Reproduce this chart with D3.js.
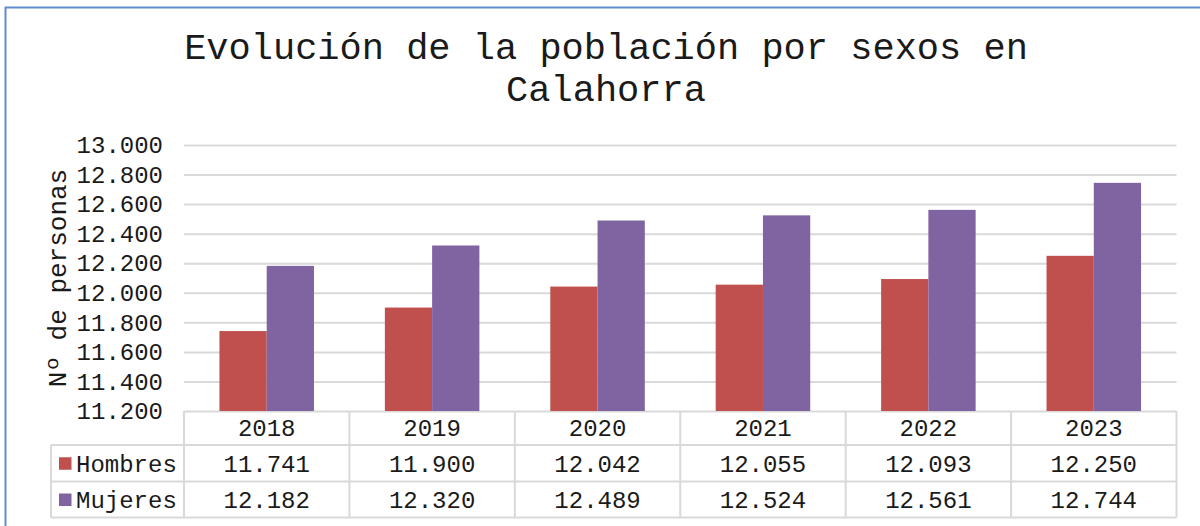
<!DOCTYPE html>
<html>
<head>
<meta charset="utf-8">
<script src="https://cdn.jsdelivr.net/npm/d3@7"></script>
<style>
  body { margin: 0; background: #fff; }
  svg { display: block; font-family: "Liberation Mono", "Courier New", monospace; }
</style>
</head>
<body>
<div id="chart"></div>
<script>
const years = ["2018", "2019", "2020", "2021", "2022", "2023"];
const seriesNames = ["Hombres", "Mujeres"];
const hombres = [11741, 11900, 12042, 12055, 12093, 12250];
const mujeres = [12182, 12320, 12489, 12524, 12561, 12744];
const yTicks = [11200, 11400, 11600, 11800, 12000, 12200, 12400, 12600, 12800, 13000];
const colors = ["#C0504D", "#8064A2"];

const es = d3.formatLocale({ decimal: ",", thousands: ".", grouping: [3], currency: ["", " €"] });
const fmt = es.format(",.0f");

const W = 1200, H = 526;
const plot = { left: 184, right: 1176.5, top: 145, bottom: 411 };
const rowH = [411, 445, 481.5, 517.5];   // table row edges
const legendLeft = 51;

const svg = d3.select("#chart").append("svg")
    .attr("width", W)
    .attr("height", H);

// chart border (only top and left are inside the picture)
svg.append("rect")
    .attr("x", 5.5).attr("y", 7.5)
    .attr("width", 1230).attr("height", 540)
    .attr("fill", "none")
    .attr("stroke", "#5E8ECB")
    .attr("stroke-width", 2);

// title
const title = svg.append("text")
    .attr("text-anchor", "middle")
    .attr("font-size", 37)
    .attr("fill", "#1a1a1a");
title.append("tspan").attr("x", 606).attr("y", 59).text("Evolución de la población por sexos en");
title.append("tspan").attr("x", 606).attr("y", 101).text("Calahorra");

const x0 = d3.scaleBand()
    .domain(years)
    .range([plot.left, plot.right])
    .padding(0);

const x1 = d3.scaleBand()
    .domain(seriesNames)
    .range([0, x0.bandwidth()])
    .paddingInner(0)
    .paddingOuter(0.75);

const y = d3.scaleLinear()
    .domain([11200, 13000])
    .range([plot.bottom, plot.top]);

// gridlines + tick labels
const yAxis = svg.append("g")
    .attr("transform", "translate(" + plot.left + ",0)")
    .call(d3.axisLeft(y)
        .tickValues(yTicks)
        .tickFormat(fmt)
        .tickSize(-(plot.right - plot.left))
        .tickPadding(21));
yAxis.select(".domain").remove();
yAxis.selectAll("line").attr("stroke", "#d9d9d9").attr("stroke-width", 2);
yAxis.selectAll("text")
    .attr("font-size", 24)
    .attr("fill", "#1a1a1a")
    .attr("font-family", "Liberation Mono, Courier New, monospace");

// y axis title
svg.append("text")
    .attr("transform", "translate(66," + (plot.top + plot.bottom) / 2 + ") rotate(-90)")
    .attr("text-anchor", "middle")
    .attr("font-size", 26)
    .attr("fill", "#1a1a1a")
    .text("Nº de personas");

// bars
const allSeries = [hombres, mujeres];
const groups = svg.append("g").selectAll("g")
    .data(years)
    .enter().append("g")
    .attr("transform", d => "translate(" + x0(d) + ",0)");

groups.selectAll("rect")
    .data((d, i) => seriesNames.map((s, j) => ({ key: s, value: allSeries[j][i], c: colors[j] })))
    .enter().append("rect")
    .attr("x", d => x1(d.key))
    .attr("width", x1.bandwidth())
    .attr("y", d => y(d.value))
    .attr("height", d => y(11200) - y(d.value))
    .attr("fill", d => d.c);

// data table
const grid = svg.append("g").attr("stroke", "#d9d9d9").attr("stroke-width", 2);
// horizontal lines
grid.append("line").attr("x1", legendLeft).attr("x2", plot.right).attr("y1", rowH[1]).attr("y2", rowH[1]);
grid.append("line").attr("x1", legendLeft).attr("x2", plot.right).attr("y1", rowH[2]).attr("y2", rowH[2]);
grid.append("line").attr("x1", legendLeft).attr("x2", plot.right).attr("y1", rowH[3]).attr("y2", rowH[3]);
// vertical lines at column edges
const edges = years.map(d => x0(d)).concat([plot.right]);
grid.selectAll(".v")
    .data(edges)
    .enter().append("line")
    .attr("x1", d => d).attr("x2", d => d)
    .attr("y1", rowH[0]).attr("y2", rowH[3]);
grid.append("line").attr("x1", legendLeft).attr("x2", legendLeft).attr("y1", rowH[1]).attr("y2", rowH[3]);

// year header
svg.append("g").selectAll("text")
    .data(years)
    .enter().append("text")
    .attr("x", d => x0(d) + x0.bandwidth() / 2)
    .attr("y", (rowH[0] + rowH[1]) / 2)
    .attr("dy", "0.35em")
    .attr("text-anchor", "middle")
    .attr("font-size", 24)
    .attr("fill", "#1a1a1a")
    .text(d => d);

// value rows
allSeries.forEach((vals, j) => {
    const cy = (rowH[j + 1] + rowH[j + 2]) / 2;
    svg.append("g").selectAll("text")
        .data(vals)
        .enter().append("text")
        .attr("x", (d, i) => x0(years[i]) + x0.bandwidth() / 2)
        .attr("y", cy)
        .attr("dy", "0.35em")
        .attr("text-anchor", "middle")
        .attr("font-size", 24)
        .attr("fill", "#1a1a1a")
        .text(d => fmt(d));

    // legend key + name
    svg.append("rect")
        .attr("x", 59).attr("y", cy - 6)
        .attr("width", 12.5).attr("height", 12.5)
        .attr("fill", colors[j]);
    svg.append("text")
        .attr("x", 76)
        .attr("y", cy)
        .attr("dy", "0.35em")
        .attr("font-size", 24)
        .attr("fill", "#1a1a1a")
        .text(seriesNames[j]);
});
</script>
</body>
</html>
